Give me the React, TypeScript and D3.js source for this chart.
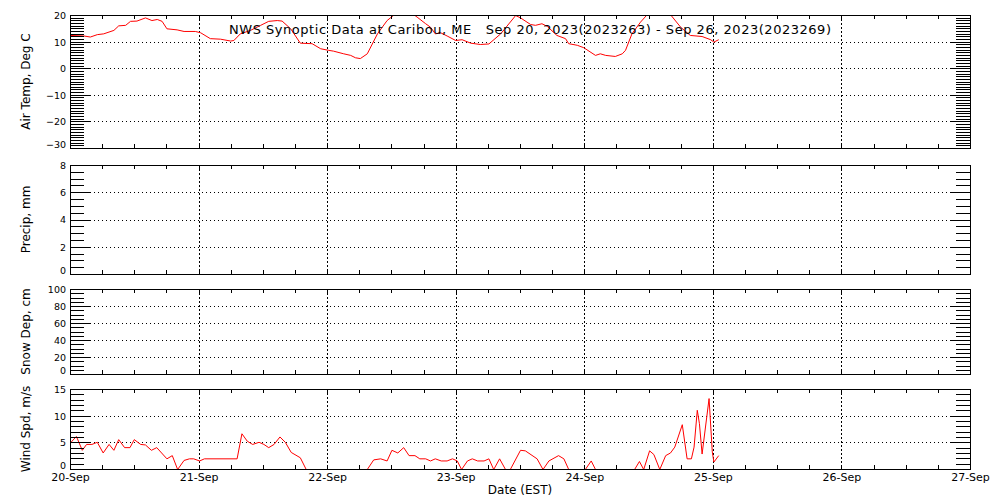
import React from "react";
import * as d3 from "d3";

// ---- Data (hours since 20-Sep 00:00 EST, value) ----
const airTemp: [number, number][] = [
  [0, 12.5], [2.5, 12.3], [3.7, 11.9], [5.0, 12.8], [6.2, 13.1], [8.1, 14.4], [9.0, 16.1], [10.3, 16.3],
  [11.2, 17.8], [12.4, 17.9], [14.0, 19.1], [15.2, 18.1], [16.2, 18.5], [17.1, 17.8], [18.0, 15.0],
  [19.9, 14.6], [21.2, 14.0], [23.3, 14.0], [24.3, 13.5], [26.1, 11.3], [28.0, 11.1], [29.9, 10.4],
  [30.5, 10.6], [31.7, 13.1], [33.6, 14.4], [35.5, 16.3], [37.0, 17.8], [38.6, 18.1], [39.5, 17.9],
  [41.1, 15.0], [42.9, 9.6], [45.1, 9.4], [46.7, 7.5], [48.2, 6.9], [49.1, 6.6], [51.0, 5.6], [52.3, 5.0],
  [53.2, 4.1], [54.1, 3.8], [55.4, 5.6], [57.3, 13.1], [59.1, 18.1], [60.4, 20.2], [62.2, 21.5],
  [64.1, 20.3], [64.7, 19.4], [66.3, 16.9], [67.2, 15.6], [68.1, 13.1], [69.1, 13.5], [70.3, 12.3],
  [71.9, 10.6], [73.1, 10.9], [74.7, 9.6], [76.5, 9.1], [78.1, 9.3], [80.3, 13.1], [83.1, 20.0],
  [84.0, 19.1], [85.9, 16.6], [86.8, 16.3], [88.0, 16.9], [89.0, 15.9], [90.8, 12.5], [92.4, 11.3],
  [93.0, 9.4], [94.6, 8.8], [95.8, 7.9], [98.0, 5.0], [98.9, 5.6], [99.9, 5.0], [101.7, 4.6],
  [103.0, 5.6], [103.6, 6.9], [104.8, 13.1], [106.4, 17.5], [107.6, 20.2], [109.8, 21.5], [112.0, 20.3],
  [113.9, 15.6], [115.7, 12.5], [117.9, 12.1], [119.5, 10.9], [120.1, 10.0], [121.0, 10.9],
];

const windSpeed: [number, number][] = [
  [0, 5.0], [1.1, 6.2], [2.2, 3.6], [3.0, 4.7], [4.0, 4.7], [5.0, 5.1], [6.1, 3.1], [7.2, 4.7], [8.1, 3.6],
  [9.0, 5.6], [10.1, 4.1], [11.1, 4.1], [11.9, 5.6], [13.1, 4.7], [14.0, 4.6], [15.1, 3.6], [16.1, 4.1],
  [18.0, 2.0], [19.0, 2.6], [20.0, 0], [21.2, 1.7], [22.2, 2.0], [23.0, 2.0], [24.1, 1.6], [25.0, 2.0],
  [31.1, 2.0], [32.0, 6.7], [33.0, 5.3], [34.0, 4.7], [35.2, 5.1], [36.1, 4.7], [37.0, 4.1], [38.0, 4.7],
  [39.1, 6.1], [40.1, 5.1], [41.2, 3.2], [42.9, 2.2], [44.0, 0], [55.4, 0], [56.6, 1.8], [57.9, 2.0],
  [59.1, 1.6], [60.0, 3.6], [61.1, 3.1], [62.2, 4.1], [63.2, 2.6], [64.3, 2.6], [65.2, 2.0], [66.3, 2.0],
  [67.2, 1.6], [68.1, 2.0], [69.2, 1.6], [70.3, 1.6], [71.3, 2.0], [72.2, 1.6], [73.0, 0], [74.1, 1.6],
  [75.0, 2.0], [76.0, 1.6], [77.2, 1.6], [78.1, 2.0], [79.0, 0], [80.1, 2.0], [81.2, 0], [82.1, 0],
  [84.0, 3.6], [84.9, 3.5], [87.1, 2.0], [88.2, 0], [89.3, 1.6], [91.1, 2.6], [92.1, 2.0], [93.0, 0],
  [96.1, 0], [97.2, 1.6], [98.0, 0], [105.3, 0], [106.2, 1.5], [107.0, 0], [108.1, 3.5], [108.9, 2.8],
  [110.0, 0], [111.1, 2.6], [112.0, 3.1], [112.8, 4.2], [114.2, 8.4], [115.1, 2.0], [115.9, 2.0],
  [116.4, 4.2], [117.0, 11.1], [117.4, 8.6], [117.9, 2.9], [119.2, 13.3], [119.8, 3.3], [120.1, 1.4],
  [121.0, 2.6],
];

const precip: [number, number][] = [];
const snowDepth: [number, number][] = [];

const dayLabels = ["20-Sep", "21-Sep", "22-Sep", "23-Sep", "24-Sep", "25-Sep", "26-Sep", "27-Sep"];
const titleText = "NWS Synoptic Data at Caribou, ME   Sep 20, 2023(2023263) - Sep 26, 2023(2023269)";
const xAxisTitle = "Date (EST)";

// ---- Layout ----
const LEFT = 70;
const RIGHT = 970;
const FONT = "'DejaVu Sans', sans-serif";

const panels = [
  { id: "temp", top: 15, bottom: 148, domain: [-30, 20], major: 10, minor: 1, label: "Air Temp, Deg C", data: airTemp },
  { id: "precip", top: 165, bottom: 274, domain: [0, 8], major: 2, minor: 0.5, label: "Precip, mm", data: precip },
  { id: "snow", top: 289, bottom: 374, domain: [0, 100], major: 20, minor: 5, label: "Snow Dep, cm", data: snowDepth },
  { id: "wind", top: 389, bottom: 469, domain: [0, 15], major: 5, minor: 1, label: "Wind Spd, m/s", data: windSpeed },
];

const x = d3.scaleLinear().domain([0, 168]).range([LEFT + 0.5, RIGHT + 0.5]);

const fmt = (v: number) => (v < 0 ? "\u2212" + Math.abs(v) : String(v));

function Panel({ p, isLast }: { p: (typeof panels)[number]; isLast: boolean }) {
  const y = d3.scaleLinear().domain(p.domain as [number, number]).range([p.bottom + 0.5, p.top + 0.5]);
  const nMinor = Math.round((p.domain[1] - p.domain[0]) / p.minor);
  const minorVals = d3.range(nMinor + 1).map((i) => p.domain[0] + i * p.minor);
  const nMajor = Math.round((p.domain[1] - p.domain[0]) / p.major);
  const majorVals = d3.range(nMajor + 1).map((i) => p.domain[0] + i * p.major);
  const sixHours = d3.range(1, 28);
  const days = d3.range(1, 7);
  const line = d3
    .line<[number, number]>()
    .x((d) => x(d[0]))
    .y((d) => y(d[1]));
  const clipId = "clip-" + p.id;
  const r = (v: number) => Math.round(v - 0.5) + 0.5;
  return (
    <g>
      <defs>
        <clipPath id={clipId}>
          <rect x={LEFT} y={p.top} width={RIGHT - LEFT + 1} height={p.bottom - p.top + 1} />
        </clipPath>
      </defs>
      {/* horizontal dotted gridlines */}
      {majorVals.slice(1, -1).map((v) => (
        <line key={"hg" + v} x1={LEFT} x2={RIGHT} y1={r(y(v))} y2={r(y(v))} stroke="#000" strokeDasharray="1,3" shapeRendering="crispEdges" />
      ))}
      {/* vertical dotted gridlines */}
      {days.map((d) => (
        <line key={"vg" + d} x1={r(x(d * 24))} x2={r(x(d * 24))} y1={p.top} y2={p.bottom} stroke="#000" strokeDasharray="2,2" shapeRendering="crispEdges" />
      ))}
      {/* data line */}
      {p.data.length > 0 && (
        <path d={line(p.data) || ""} fill="none" stroke="#ff0000" strokeWidth={1} clipPath={`url(#${clipId})`} />
      )}
      {/* minor y ticks */}
      {minorVals.map((v) => (
        <g key={"mt" + v}>
          <line x1={LEFT} x2={LEFT + 14} y1={r(y(v))} y2={r(y(v))} stroke="#000" shapeRendering="crispEdges" />
          <line x1={RIGHT} x2={RIGHT - 14} y1={r(y(v))} y2={r(y(v))} stroke="#000" shapeRendering="crispEdges" />
        </g>
      ))}
      {/* major y ticks + labels */}
      {majorVals.map((v, i) => (
        <g key={"Mt" + v}>
          <line x1={LEFT} x2={LEFT + 20} y1={r(y(v))} y2={r(y(v))} stroke="#000" shapeRendering="crispEdges" />
          <line x1={RIGHT} x2={RIGHT - 20} y1={r(y(v))} y2={r(y(v))} stroke="#000" shapeRendering="crispEdges" />
          <text
            x={66}
            y={i === 0 ? p.bottom : y(v)}
            dy={i === 0 ? "0" : "0.36em"}
            textAnchor="end"
            fontSize={9.5}
            fontFamily={FONT}
          >
            {fmt(v)}
          </text>
        </g>
      ))}
      {/* 6-hour x ticks */}
      {sixHours.map((h) => (
        <g key={"xt" + h}>
          <line x1={r(x(h * 6))} x2={r(x(h * 6))} y1={p.top} y2={p.top + 4} stroke="#000" shapeRendering="crispEdges" />
          <line x1={r(x(h * 6))} x2={r(x(h * 6))} y1={p.bottom} y2={p.bottom - 4} stroke="#000" shapeRendering="crispEdges" />
        </g>
      ))}
      {/* frame */}
      <rect x={LEFT + 0.5} y={p.top + 0.5} width={RIGHT - LEFT} height={p.bottom - p.top} fill="none" stroke="#000" shapeRendering="crispEdges" />
      {/* y title */}
      <text
        transform={`translate(30,${(p.top + p.bottom) / 2}) rotate(-90)`}
        textAnchor="middle"
        fontSize={12}
        fontFamily={FONT}
      >
        {p.label}
      </text>
      {isLast &&
        dayLabels.map((lab, i) => (
          <text key={lab} x={x(i * 24)} y={481} textAnchor="middle" fontSize={11} fontFamily={FONT}>
            {lab}
          </text>
        ))}
    </g>
  );
}

export default function App() {
  return (
    <svg width={1000} height={500} style={{ position: "absolute", left: 0, top: 0, background: "#fff" }}>
      <rect x={0} y={0} width={1000} height={500} fill="#fff" />
      {panels.map((p, i) => (
        <Panel key={p.id} p={p} isLast={i === panels.length - 1} />
      ))}
      <text
        x={229}
        y={34}
        fontSize={13}
        fontFamily={FONT}
        textLength={602}
        lengthAdjust="spacing"
        style={{ whiteSpace: "pre" }}
      >
        {titleText}
      </text>
      <text x={(LEFT + RIGHT) / 2} y={494} textAnchor="middle" fontSize={12} fontFamily={FONT}>
        {xAxisTitle}
      </text>
    </svg>
  );
}
